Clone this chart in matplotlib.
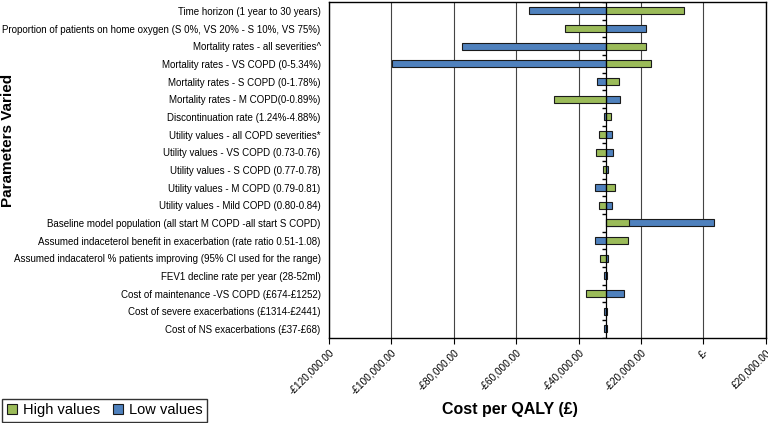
import numpy as np
import matplotlib
matplotlib.use("Agg")
from matplotlib import pyplot as plt
from matplotlib.ticker import FuncFormatter, MultipleLocator

plt.rcParams['font.family'] = ['Liberation Sans', 'DejaVu Sans']

# base case ICER (where the bars start)
base = -31300

params = [
    "Time horizon (1 year to 30 years)",
    "Proportion of patients on home oxygen (S 0%, VS 20% - S 10%, VS 75%)",
    "Mortality rates - all severities^",
    "Mortality rates - VS COPD (0-5.34%)",
    "Mortality rates - S COPD (0-1.78%)",
    "Mortality rates - M COPD(0-0.89%)",
    "Discontinuation rate (1.24%-4.88%)",
    "Utility values - all COPD severities*",
    "Utility values - VS COPD (0.73-0.76)",
    "Utility values - S COPD (0.77-0.78)",
    "Utility values - M COPD (0.79-0.81)",
    "Utility values - Mild COPD (0.80-0.84)",
    "Baseline model population (all start M COPD -all start S COPD)",
    "Assumed indaceterol benefit in exacerbation (rate ratio 0.51-1.08)",
    "Assumed indacaterol % patients improving (95% CI used for the range)",
    "FEV1 decline rate per year (28-52ml)",
    "Cost of maintenance -VS COPD (£674-£1252)",
    "Cost of severe exacerbations (£1314-£2441)",
    "Cost of NS exacerbations (£37-£68)",
]

# cost per QALY at the high / low end of each range
high_vals = [-6100, -44300, -18500, -16700, -27100, -47800, -29500, -33600, -34300,
             -32100, -28400, -33600, -23700, -24200, -33100, -31000, -37500, -31000, -31000]
low_vals = [-55800, -18500, -77300, -99900, -34100, -26600, -31900, -29200, -28900,
            -30700, -34700, -29400, 3300, -34700, -30700, -31700, -25300, -31700, -31700]

green = '#9BBB59'
blue = '#4F81BD'

fig = plt.figure(figsize=(7.68, 4.23), dpi=100)
ax = fig.add_axes([0.4284, 0.2017, 0.5686, 0.7933])

y = np.arange(len(params))
low = np.array(low_vals)
high = np.array(high_vals)

ax.barh(y, low - base, left=base, height=0.4, color=blue, edgecolor='#1a1a1a',
        linewidth=0.8, label='Low values', zorder=3)
ax.barh(y, high - base, left=base, height=0.4, color=green, edgecolor='#1a1a1a',
        linewidth=0.8, label='High values', zorder=4)

# category axis crossing at the base case
ax.axvline(base, color='black', linewidth=0.9, zorder=5)
ax.plot(np.full(len(params) + 1, base), np.arange(len(params) + 1) - 0.5,
        linestyle='none', marker=0, markersize=3, color='black', zorder=5)

ax.set_xlim(-120000, 20000)
ax.set_ylim(len(params) - 0.5, -0.5)
ax.xaxis.set_major_locator(MultipleLocator(20000))
ax.grid(axis='x', color='#444444', linewidth=0.8, zorder=0)


def money(v, pos):
    if abs(v) < 1:
        return '£-'
    s = '£{:,.2f}'.format(abs(v))
    return '-' + s if v < 0 else s


ax.xaxis.set_major_formatter(FuncFormatter(money))
ax.set_yticks(y)
ax.set_yticklabels(params, fontsize=7.0)
ax.tick_params(axis='y', length=0, pad=6)
ax.tick_params(axis='x', length=4, direction='out', labelsize=7.2, pad=3)
for lab in ax.get_xticklabels():
    lab.set_rotation(45)
    lab.set_ha('right')
    lab.set_rotation_mode('anchor')

for s in ax.spines.values():
    s.set_color('black')
    s.set_linewidth(1.0)

fig.text(0.011, 0.667, 'Parameters Varied', rotation=90, fontsize=11,
         fontweight='bold', ha='center', va='center')
fig.text(0.664, 0.031, 'Cost per QALY (£)', fontsize=11.5, fontweight='bold',
         ha='center', va='center')

handles, labels = ax.get_legend_handles_labels()
leg = fig.legend(handles[::-1], labels[::-1], loc='lower left', ncol=2,
                 bbox_to_anchor=(0.003, 0.003), fontsize=10.5, frameon=True,
                 fancybox=False, edgecolor='black', handlelength=0.7,
                 handleheight=0.7, handletextpad=0.4, columnspacing=0.9,
                 borderpad=0.3, borderaxespad=0)
leg.get_frame().set_linewidth(1.0)

fig.savefig('out.png', dpi=100)
